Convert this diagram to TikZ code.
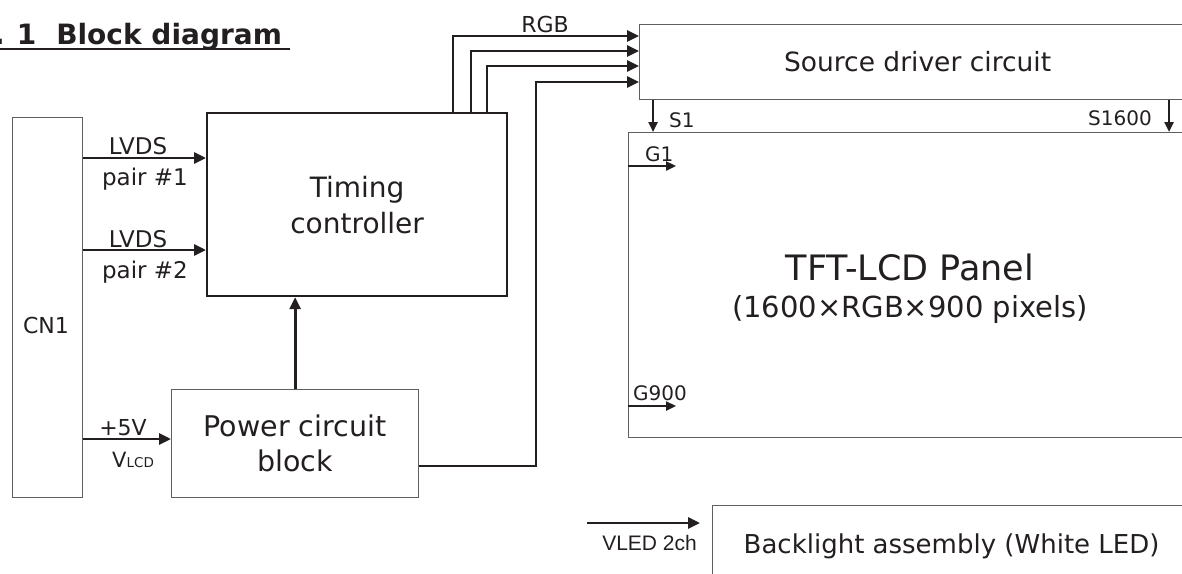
\documentclass[tikz,border=0pt]{standalone}
\usepackage{fontspec}
\setmainfont{DejaVu Sans}
\newfontfamily\narrowfont{Liberation Sans}
\usetikzlibrary{arrows.meta}
\definecolor{ink}{RGB}{35,31,32}
\definecolor{boxgray}{RGB}{95,95,95}
\newcommand{\fs}[1]{\fontsize{#1}{#1}\selectfont}
\begin{document}
\begin{tikzpicture}[x=1pt,y=-1pt,
  thinbox/.style={draw=boxgray, line width=1.2pt, inner sep=0pt, anchor=north west, align=center, text=ink},
  thickbox/.style={draw=ink, line width=2.2pt, inner sep=0pt, anchor=north west, align=center, text=ink},
  arr/.style={draw=ink, line width=2.8pt, -{Triangle[length=12pt,width=11pt]}},
  sarr/.style={draw=ink, line width=2.3pt, -{Triangle[length=10pt,width=9pt]}},
  lbl/.style={text=ink, inner sep=0pt},
]
\useasboundingbox (0,0) rectangle (1182,573);
\clip (0,0) rectangle (1182,573);

% title
\node[lbl, anchor=base west, font=\bfseries\fontsize{28}{34}\selectfont] (title) at (-6,44) {.\kern12pt 1\kern20pt Block diagram};
\draw[ink, line width=2.2pt] (0,49) -- (290,49);

% boxes
\node[thinbox, minimum width=70pt, minimum height=380pt] (cn1) at (12,117) {};
\node[lbl, anchor=base, font=\fs{22}] (cn1t) at (46,333) {CN1};
\node[thickbox, minimum width=300pt, minimum height=183pt, font=\fontsize{28}{36}\selectfont] (tc) at (206,112) {Timing\\controller};
\node[thinbox, minimum width=247pt, minimum height=108pt, font=\fontsize{28.5}{35}\selectfont] (pwr) at (171,389) {Power circuit\\block};
\node[thinbox, minimum width=556pt, minimum height=75pt, font=\fs{26.5}] (src) at (639,24) {Source driver circuit};
\node[thinbox, minimum width=565pt, minimum height=305pt] (panel) at (628,132) {};
\node[lbl, anchor=base, font=\fs{35}] (pt1) at (910,280) {TFT-LCD Panel};
\node[lbl, anchor=base, font=\fs{29}] (pt2) at (910,317) {(1600×RGB×900 pixels)};
\node[thinbox, minimum width=478pt, minimum height=82pt, font=\fs{26}] (bl) at (712,505) {Backlight assembly (White LED)};

% helper coordinates
\coordinate (yl1) at (0,158);
\coordinate (yl2) at (0,250);
\coordinate (y5v) at (0,439);
\coordinate (ypo) at (0,466);
\coordinate (jpo) at (536,82);
\coordinate (r1) at (453,36);
\coordinate (r2) at (471,51);
\coordinate (r3) at (487,66);
\coordinate (xs1) at (653,0);
\coordinate (xs16) at (1169,0);
\coordinate (g1e) at (676,166);
\coordinate (g9e) at (676,406);
\coordinate (vls) at (587,523);
\coordinate (vle) at (700,523);

% connectors
\draw[arr] (cn1.east |- yl1) -- (tc.west |- yl1);
\draw[arr] (cn1.east |- yl2) -- (tc.west |- yl2);
\draw[arr] (cn1.east |- y5v) -- (pwr.west |- y5v);
\draw[arr] (pwr.north) -- (tc.south -| pwr.north);
\draw[arr] (pwr.east |- ypo) -| (jpo) -- (src.west |- jpo);
\draw[arr] (tc.north -| r1) |- (src.west |- r1);
\draw[arr] (tc.north -| r2) |- (src.west |- r2);
\draw[arr] (tc.north -| r3) |- (src.west |- r3);
\draw[sarr] (src.south -| xs1) -- (panel.north -| xs1);
\draw[sarr] (src.south -| xs16) -- (panel.north -| xs16);
\draw[sarr] (panel.west |- g1e) -- (g1e);
\draw[sarr] (panel.west |- g9e) -- (g9e);
\draw[arr] (vls) -- (vle);

% labels
\node[lbl, anchor=base, font=\fs{23}] at (138,154) {LVDS};
\node[lbl, anchor=base, font=\fs{23}] at (145,185) {pair \#1};
\node[lbl, anchor=base, font=\fs{23}] at (138,247) {LVDS};
\node[lbl, anchor=base, font=\fs{23}] at (145,278) {pair \#2};
\node[lbl, anchor=base, font=\fs{22}] at (123,435) {+5V};
\node[lbl, anchor=base west] at (112,467) {{\fs{21}V}{\fs{13.5}LCD}};
\node[lbl, anchor=base, font=\fs{22}] at (545,32) {RGB};
\node[lbl, anchor=base west, font=\fs{20}] at (669,127) {S1};
\node[lbl, anchor=base east, font=\fs{20}] at (1152,125) {S1600};
\node[lbl, anchor=base west, font=\fs{20}] at (645,161) {G1};
\node[lbl, anchor=base west, font=\fs{20}] at (633,400) {G900};
\node[lbl, anchor=base east, font=\narrowfont\fs{21}] at (697,550) {VLED 2ch};
\end{tikzpicture}
\end{document}
